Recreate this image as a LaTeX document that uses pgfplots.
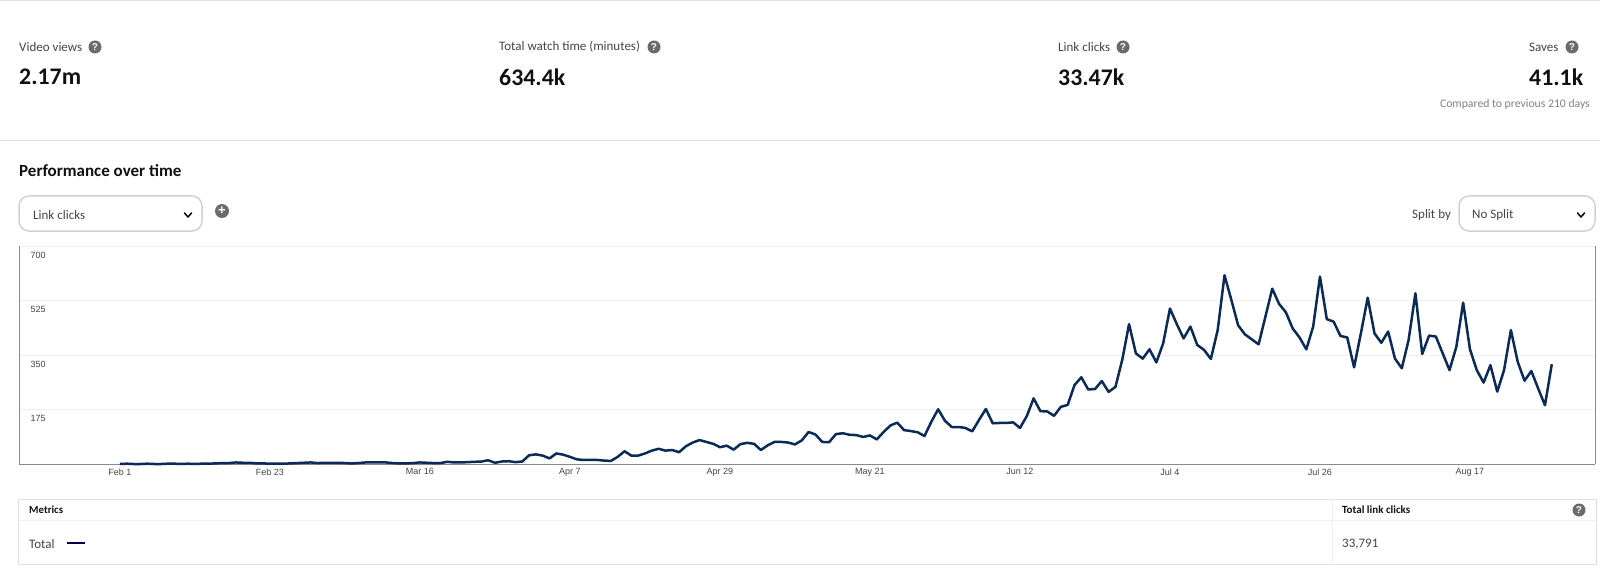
\documentclass[border=0pt]{standalone}
\usepackage{pgfplots}
\usepackage{fontspec}
\pgfplotsset{compat=1.18}
\setmainfont{Carlito}
\newfontfamily\arialf{Liberation Sans}
\definecolor{rule}{HTML}{E0E0E0}
\definecolor{gridc}{HTML}{F0F0F0}
\definecolor{axisc}{HTML}{8A8A8A}
\definecolor{linec}{HTML}{0B2A55}
\definecolor{ink}{HTML}{111111}
\definecolor{soft}{HTML}{444444}
\definecolor{iconc}{HTML}{6B6B6B}
\newcommand{\px}[1]{\fontsize{#1pt}{#1pt}\selectfont}
\newcommand{\qicon}[2]{\node[circle,fill=iconc,inner sep=0pt,minimum size=13pt,text=white,font=\arialf\bfseries\px{10}] at (#1,#2) {?};}
\newcommand{\chev}[2]{\draw[line width=1.5pt,black,line cap=round,line join=round] (#1-3.5,#2-2) -- (#1,#2+2) -- (#1+3.5,#2-2);}
\begin{document}
\begin{tikzpicture}[x=1pt,y=1pt]
\path[use as bounding box] (0,0) rectangle (1600,574);
\begin{axis}[
  at={(19pt,110pt)}, anchor=south west,
  scale only axis, width=1576pt, height=218pt,
  xmin=-14.81, xmax=216.34, ymin=0, ymax=701.3,
  axis lines=left, axis line style={-,draw=axisc,line width=1pt},
  xtick={0,22,44,66,88,110,132,154,176,198},
  xticklabels={Feb 1,Feb 23,Mar 16,Apr 7,Apr 29,May 21,Jun 12,Jul 4,Jul 26,Aug 17},
  ytick={175,350,525,700},
  major tick length=0pt,
  ymajorgrids, grid style={draw=gridc,line width=1pt},
  xticklabel style={font=\arialf\px{9},text=soft,yshift=-1pt},
  yticklabel style={font=\arialf\px{9},text=soft,anchor=north west,xshift=8pt,yshift=-2pt},
  /pgf/number format/assume math mode=true,
  clip=false,
]
\addplot[linec,line width=2.5pt,line join=round,no markers] coordinates {
(0,0)(1,1)(2,0)(3,0)(4,1)(5,0)(6,0)(7,1)(8,1)(9,0)(10,1)(11,0)(12,1)(13,1)(14,2)(15,3)(16,3)(17,5)(18,4)(19,4)
(20,2)(21,2)(22,1)(23,1)(24,1)(25,2)(26,3)(27,4)(28,5)(29,3)(30,4)(31,4)(32,4)(33,3)(34,2)(35,3)(36,5)(37,5)(38,5)(39,5)
(40,3)(41,2)(42,2)(43,3)(44,5)(45,4)(46,3)(47,3)(48,7)(49,5)(50,5)(51,6)(52,7)(53,8)(54,12)(55,4)(56,8)(57,9)(58,6)(59,8)
(60,28)(61,31)(62,27)(63,18)(64,34)(65,30)(66,23)(67,15)(68,13)(69,13)(70,13)(71,11)(72,10)(73,23)(74,41)(75,27)(76,27)(77,34)(78,43)(79,49)
(80,43)(81,45)(82,38)(83,57)(84,69)(85,77)(86,71)(87,65)(88,54)(89,59)(90,46)(91,64)(92,68)(93,65)(94,45)(95,60)(96,71)(97,71)(98,69)(99,63)
(100,76)(101,103)(102,95)(103,71)(104,70)(105,96)(106,99)(107,94)(108,93)(109,87)(110,92)(111,79)(112,103)(113,124)(114,133)(115,109)(116,106)(117,102)(118,90)(119,136)
(120,176)(121,139)(122,119)(123,119)(124,116)(125,105)(126,142)(127,177)(128,131)(129,132)(130,132)(131,134)(132,116)(133,154)(134,211)(135,170)(136,169)(137,155)(138,184)(139,190)
(140,254)(141,279)(142,240)(143,241)(144,267)(145,232)(146,248)(147,335)(148,450)(149,356)(150,339)(151,369)(152,327)(153,388)(154,500)(155,450)(156,404)(157,442)(158,383)(159,367)
(160,338)(161,431)(162,607)(163,528)(164,446)(165,417)(166,401)(167,385)(168,474)(169,564)(170,515)(171,488)(172,436)(173,407)(174,369)(175,442)(176,603)(177,466)(178,458)(179,412)
(180,407)(181,311)(182,420)(183,535)(184,420)(185,390)(186,426)(187,339)(188,308)(189,399)(190,549)(191,354)(192,413)(193,410)(194,356)(195,302)(196,377)(197,519)(198,369)(199,302)
(200,262)(201,318)(202,233)(203,302)(204,431)(205,329)(206,268)(207,299)(208,243)(209,189)(210,321)
};
\draw[axisc,line width=1pt] (rel axis cs:1,0) -- (rel axis cs:1,1);
\end{axis}
\begin{scope}[x=1pt,y=-1pt,shift={(0pt,574pt)}]
\draw[rule,line width=1pt] (0,1) -- (1600,1);
\draw[rule,line width=1pt] (0,141) -- (1600,141);
% metric labels
\tikzset{lab/.style={anchor=west,inner sep=0pt,text=soft,font=\px{13}},
         val/.style={anchor=west,inner sep=0pt,text=ink,font=\bfseries\px{23.8}}}
\node[lab] at (19,47) {Video views}; \qicon{95}{47}
\node[val] at (19,77) {2.17m};
\node[lab] at (499,47) {Total watch time (minutes)}; \qicon{654}{47}
\node[val] at (499,77) {634.4k};
\node[lab] at (1058,47) {Link clicks}; \qicon{1123}{47}
\node[val] at (1058,77) {33.47k};
\node[lab] at (1529,47) {Saves}; \qicon{1572}{47}
\node[val] at (1529,77) {41.1k};
\node[anchor=east,inner sep=0pt,text=black!50,font=\px{11.7}] at (1590,104) {Compared to previous 210 days};
\node[anchor=west,inner sep=0pt,text=ink,font=\bfseries\px{17}] at (19,171) {Performance over time};
% dropdowns
\draw[draw=black!18,line width=1.5pt,rounded corners=10pt] (19,196) rectangle (202,231);
\node[lab] at (33,215) {Link clicks};
\chev{188}{215}
\node[circle,fill=iconc,inner sep=0pt,minimum size=14pt,text=white,font=\arialf\bfseries\px{13}] at (222,211) {+};
\node[lab] at (1412,215) {Split by};
\draw[draw=black!18,line width=1.5pt,rounded corners=10pt] (1459,196) rectangle (1595,231);
\node[lab] at (1472,215) {No Split};
\chev{1581}{215}
% table
\draw[rule,line width=1pt] (18,499) rectangle (1596,564);
\draw[gridc,line width=1pt] (18,520) -- (1596,520);
\draw[gridc,line width=1pt] (1332,499) -- (1332,564);
\node[anchor=west,inner sep=0pt,text=ink,font=\bfseries\px{10.8}] at (29,510) {Metrics};
\node[anchor=west,inner sep=0pt,text=ink,font=\bfseries\px{11}] at (1342,510) {Total link clicks};
\qicon{1579}{510}
\node[lab] at (29,544) {Total};
\draw[color=blue!30!black,line width=2.5pt] (67,543) -- (85,543);
\node[lab] at (1342,544) {33,791};
\end{scope}
\end{tikzpicture}
\end{document}
